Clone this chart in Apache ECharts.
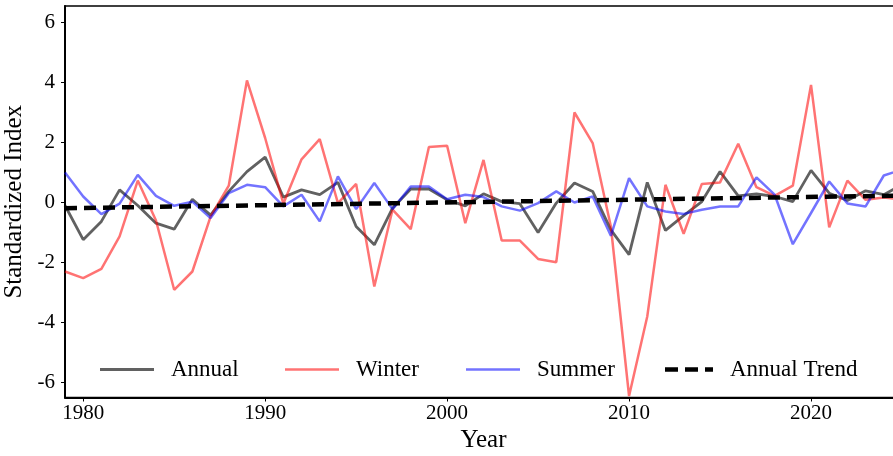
<!DOCTYPE html>
<html>
<head>
<meta charset="utf-8">
<script src="https://cdn.jsdelivr.net/npm/echarts@6/dist/echarts.min.js"></script>
<style>
  html, body { margin: 0; padding: 0; background: #fff; }
  #chart { width: 893px; height: 456px; }
</style>
</head>
<body>
<div id="chart"></div>
<script>
// Standardized index series, one value per year
const years = [];
for (let y = 1979; y <= 2025; y++) years.push(y);

const annual = [
  -0.10, -1.24, -0.63, 0.42, -0.10, -0.69, -0.89, 0.11, -0.42, 0.37,
  1.03, 1.51, 0.18, 0.42, 0.26, 0.67, -0.80, -1.41, -0.19, 0.45,
  0.45, 0.09, -0.11, 0.29, 0.03, -0.04, -1.00, -0.02, 0.65, 0.37,
  -0.91, -1.74, 0.67, -0.93, -0.44, 0.03, 1.03, 0.22, 0.29, 0.20,
  0.03, 1.07, 0.31, 0.07, 0.39, 0.26, 0.60
];
const winter = [
  -2.30, -2.52, -2.21, -1.13, 0.73, -0.60, -2.91, -2.30, -0.47, 0.56,
  4.07, 2.15, -0.04, 1.44, 2.11, -0.02, 0.62, -2.80, -0.24, -0.89,
  1.85, 1.89, -0.69, 1.42, -1.27, -1.27, -1.88, -1.99, 3.00, 1.98,
  -0.80, -6.45, -3.80, 0.59, -1.04, 0.62, 0.67, 1.96, 0.51, 0.22,
  0.56, 3.92, -0.83, 0.73, 0.09, 0.17, 0.10
];
const summer = [
  1.00, 0.20, -0.39, -0.04, 0.92, 0.22, -0.11, 0.03, -0.52, 0.31,
  0.59, 0.51, -0.13, 0.26, -0.63, 0.87, -0.22, 0.65, -0.22, 0.53,
  0.53, 0.11, 0.26, 0.18, -0.13, -0.27, -0.02, 0.37, 0.00, 0.20,
  -1.11, 0.81, -0.13, -0.30, -0.38, -0.24, -0.13, -0.13, 0.84, 0.26,
  -1.39, -0.35, 0.70, -0.03, -0.13, 0.90, 1.10
];
// Linear trend of the annual index (end points)
const trendYears = [1979, 2025];
const trendValues = [-0.19, 0.23];

const xTicks = [1980, 1990, 2000, 2010, 2020];
const yTicks = [-6, -4, -2, 0, 2, 4, 6];

const FONT = 'Liberation Serif, Times New Roman, serif';
const pair = (xs, vs) => xs.map((x, i) => [x, vs[i]]);

const chart = echarts.init(document.getElementById('chart'), null, { renderer: 'canvas' });

const legendBase = {
  top: 358,
  padding: 0,
  itemWidth: 54,
  textStyle: { fontFamily: FONT, fontSize: 23, color: '#000', padding: [0, 0, 0, 12] },
  selectedMode: false
};
// dashed legend sample for the trend line
const dashIcon = 'path://M0,0h13v4.5h-13z M20,0h13v4.5h-13z M40,0h8v4.5h-8z';

chart.setOption({
  animation: false,
  backgroundColor: '#fff',
  grid: {
    left: 65, top: 6, width: 837, height: 391.5,
    outerBoundsMode: 'none', containLabel: false,
    show: true, borderColor: '#000', borderWidth: 1.5, backgroundColor: 'transparent'
  },
  xAxis: {
    type: 'value', min: 1979, max: 2025,
    name: 'Year', nameLocation: 'middle', nameGap: 29,
    nameTextStyle: { fontFamily: FONT, fontSize: 25, color: '#000' },
    axisLine: { show: true, onZero: false, lineStyle: { color: '#000', width: 2 } },
    axisTick: { show: true, length: 4, customValues: xTicks, lineStyle: { color: '#000', width: 1 } },
    axisLabel: { customValues: xTicks, fontFamily: FONT, fontSize: 21, color: '#000', margin: 5,
      formatter: v => String(v) },
    splitLine: { show: false }
  },
  yAxis: {
    type: 'value', min: -6.5, max: 6.55,
    name: 'Standardized Index', nameLocation: 'middle', nameGap: 31,
    nameTextStyle: { fontFamily: FONT, fontSize: 25, color: '#000' },
    axisLine: { show: true, onZero: false, lineStyle: { color: '#000', width: 2 } },
    axisTick: { show: true, length: 4, customValues: yTicks, lineStyle: { color: '#000', width: 1 } },
    axisLabel: { customValues: yTicks, fontFamily: FONT, fontSize: 21, color: '#000', margin: 10 },
    splitLine: { show: false }
  },
  legend: [
    Object.assign({}, legendBase, { left: 100, data: ['Annual'], icon: 'rect', itemHeight: 2.8 }),
    Object.assign({}, legendBase, { left: 285, data: ['Winter'], icon: 'rect', itemHeight: 2.5 }),
    Object.assign({}, legendBase, { left: 466, data: ['Summer'], icon: 'rect', itemHeight: 2.5 }),
    Object.assign({}, legendBase, { left: 665, data: ['Annual Trend'], icon: dashIcon, itemWidth: 48, itemHeight: 4.5 })
  ],
  series: [
    {
      name: 'Annual', type: 'line', data: pair(years, annual), symbol: 'none',
      lineStyle: { color: 'rgba(0,0,0,0.62)', width: 2.8 }, itemStyle: { color: 'rgba(0,0,0,0.62)' },
      z: 2
    },
    {
      name: 'Winter', type: 'line', data: pair(years, winter), symbol: 'none',
      lineStyle: { color: 'rgba(255,0,0,0.55)', width: 2.5 }, itemStyle: { color: 'rgba(255,0,0,0.55)' },
      z: 3
    },
    {
      name: 'Summer', type: 'line', data: pair(years, summer), symbol: 'none',
      lineStyle: { color: 'rgba(0,0,255,0.55)', width: 2.5 }, itemStyle: { color: 'rgba(0,0,255,0.55)' },
      z: 4
    },
    {
      name: 'Annual Trend', type: 'line', data: pair(trendYears, trendValues), symbol: 'none',
      lineStyle: { color: '#000', width: 4.5, type: [12, 7] }, itemStyle: { color: '#000' },
      z: 5
    }
  ]
});
</script>
</body>
</html>
